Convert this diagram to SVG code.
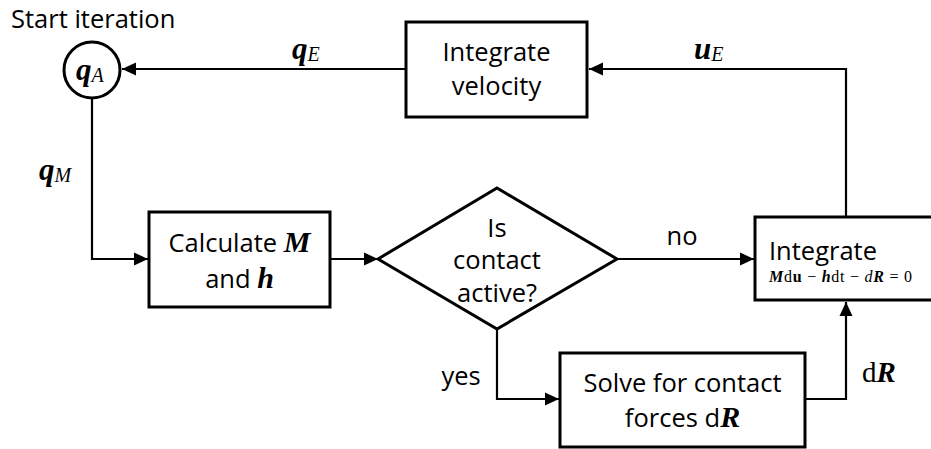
<svg xmlns="http://www.w3.org/2000/svg" width="931" height="449" viewBox="0 0 931 449">
<defs>
<marker id="ah" markerUnits="userSpaceOnUse" markerWidth="16" markerHeight="14" refX="14" refY="7" orient="auto">
<path d="M0,0.5 L14,7 L0,13.5 z" fill="#000"/>
</marker>
<style>
.box{fill:#fff;stroke:#000;stroke-width:3}
.con{fill:none;stroke:#000;stroke-width:2.2;marker-end:url(#ah)}
.t{font-family:"Open Sans","Noto Sans",sans-serif;font-size:25.5px;fill:#000}
.m{font-family:"Liberation Serif","DejaVu Serif",serif;fill:#000}
.bi{font-weight:bold;font-style:italic}
.it{font-style:italic}
</style>
</defs>
<rect width="931" height="449" fill="#fff"/>
<g id="connectors">
<path class="con" d="M846,216 L846,69 L589,69"/>
<path class="con" d="M406,69 L122,69"/>
<path class="con" d="M92,98 L92,259 L148,259"/>
<path class="con" d="M330,259 L378,259"/>
<path class="con" d="M617,259 L754,259"/>
<path class="con" d="M497,329 L497,399 L559,399"/>
<path class="con" d="M805,399 L846,399 L846,302"/>
<text class="m" x="292" y="59" font-size="31"><tspan class="bi">q</tspan><tspan class="it" font-size="20" dy="2">E</tspan></text>
<text class="m" x="694" y="59" font-size="31"><tspan class="bi">u</tspan><tspan class="it" font-size="20" dy="2">E</tspan></text>
<text class="m" x="39" y="180" font-size="31"><tspan class="bi">q</tspan><tspan class="it" font-size="20" dy="2">M</tspan></text>
<text class="t" x="682" y="245" text-anchor="middle">no</text>
<text class="t" x="461" y="385" text-anchor="middle">yes</text>
<text class="m" x="862" y="382" font-size="29">d<tspan class="bi">R</tspan></text>
</g>
<g id="start">
<text class="t" x="11" y="28">Start iteration</text>
<circle cx="92" cy="70" r="28" fill="#fff" stroke="#000" stroke-width="3"/>
<text class="m" x="76" y="80" font-size="31"><tspan class="bi">q</tspan><tspan class="it" font-size="20" dy="2">A</tspan></text>
</g>
<g id="integrate-velocity">
<rect class="box" x="406" y="22" width="181" height="95"/>
<text class="t" x="496.5" y="61" text-anchor="middle">Integrate</text>
<text class="t" x="496.5" y="95" text-anchor="middle">velocity</text>
</g>
<g id="calculate">
<rect class="box" x="149" y="212" width="181" height="95"/>
<text class="t" x="239.5" y="252" text-anchor="middle">Calculate <tspan class="m bi" font-size="30">M</tspan></text>
<text class="t" x="239.5" y="288" text-anchor="middle">and <tspan class="m bi" font-size="30">h</tspan></text>
</g>
<g id="decision">
<polygon class="box" points="378,259 497,188 617,259 497,329"/>
<text class="t" x="497" y="237" text-anchor="middle">Is</text>
<text class="t" x="497" y="269" text-anchor="middle">contact</text>
<text class="t" x="497" y="302" text-anchor="middle">active?</text>
</g>
<g id="integrate">
<rect class="box" x="755" y="217" width="185" height="83"/>
<text class="t" x="769" y="260">Integrate</text>
<text class="m" x="769" y="282" font-size="16" textLength="143" lengthAdjust="spacing"><tspan class="bi">M</tspan>d<tspan font-weight="bold">u</tspan> − <tspan class="bi">h</tspan>dt − <tspan class="it">d</tspan><tspan class="bi">R</tspan> = 0</text>
</g>
<g id="solve">
<rect class="box" x="560" y="353" width="245" height="94"/>
<text class="t" x="682.5" y="392" text-anchor="middle">Solve for contact</text>
<text class="t" x="682.5" y="427" text-anchor="middle">forces d<tspan class="m bi" font-size="30">R</tspan></text>
</g>
</svg>
